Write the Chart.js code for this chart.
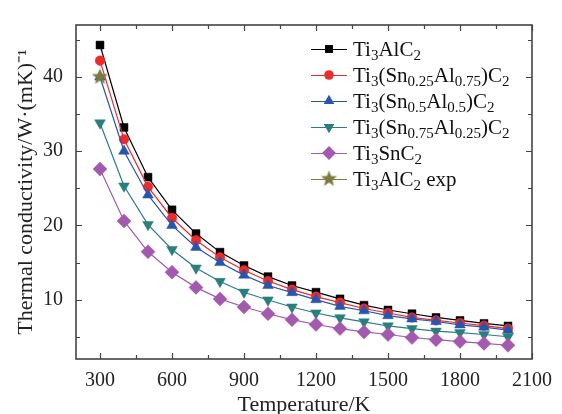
<!DOCTYPE html>
<html>
<head>
<meta charset="utf-8">
<script src="https://cdn.jsdelivr.net/npm/chart.js@4"></script>
<style>
body{margin:0;background:#fff;overflow:hidden;}
#wrap{width:562px;height:422px;}
</style>
</head>
<body>
<div id="wrap"><canvas id="myChart"></canvas></div>
<script>
// temperatures (K)
var temps = [300,400,500,600,700,800,900,1000,1100,1200,1300,1400,1500,1600,1700,1800,1900,2000];

// thermal conductivity, W/(mK)
var ti3alc2   = [44.3,33.2,26.5,22.1,18.9,16.4,14.6,13.1,11.9,11.0,10.1,9.25,8.6,8.1,7.6,7.2,6.8,6.45];
var sn025     = [42.2,31.6,25.2,21.0,18.0,15.7,13.95,12.5,11.35,10.4,9.6,8.8,8.2,7.6,7.2,6.85,6.5,6.1];
var sn05      = [40.0,30.0,24.1,20.0,17.05,15.0,13.3,11.9,10.95,10.0,9.1,8.5,7.85,7.4,7.05,6.6,6.3,5.9];
var sn075     = [33.8,25.3,20.1,16.75,14.25,12.45,11.0,9.95,9.0,8.2,7.55,7.0,6.45,6.1,5.75,5.55,5.3,5.0];
var ti3snc2   = [27.6,20.6,16.45,13.7,11.65,10.1,9.0,8.1,7.3,6.65,6.1,5.65,5.3,4.9,4.6,4.35,4.1,3.85];
var expTemps  = [300];
var expValues = [40.0];

var seriesNames = ['Ti_{3}AlC_{2}','Ti_{3}(Sn_{0.25}Al_{0.75})C_{2}','Ti_{3}(Sn_{0.5}Al_{0.5})C_{2}',
                   'Ti_{3}(Sn_{0.75}Al_{0.25})C_{2}','Ti_{3}SnC_{2}','Ti_{3}AlC_{2} exp'];

var xTicks = [300,600,900,1200,1500,1800,2100];
var xMinor = [450,750,1050,1350,1650,1950];
var yTicks = [10,20,30,40];
var yMinor = [5,15,25,35,45];

var FONT = '"Liberation Serif", "Times New Roman", serif';

function pts(xs, ys){
    return xs.map(function(x, i){ return {x: x, y: ys[i]}; });
}

// filled five point star used as point style
function makeStar(color, r){
    var c = document.createElement('canvas');
    var s = Math.ceil(r * 2 + 2);
    c.width = s; c.height = s;
    var g = c.getContext('2d');
    g.fillStyle = color;
    g.beginPath();
    for (var i = 0; i < 10; i++) {
        var rad = (i % 2 === 0) ? r : r * 0.42;
        var a = -Math.PI / 2 + i * Math.PI / 5;
        var px = s / 2 + rad * Math.cos(a), py = s / 2 + rad * Math.sin(a);
        if (i === 0) g.moveTo(px, py); else g.lineTo(px, py);
    }
    g.closePath();
    g.fill();
    return c;
}

var star = makeStar('#7b7b3c', 8.5);

function ds(i, data, color, style, radius, rotation, order, showLine){
    return {
        label: seriesNames[i],
        data: data,
        borderColor: color,
        backgroundColor: color,
        pointBackgroundColor: color,
        pointBorderColor: color,
        pointBorderWidth: 0.5,
        pointStyle: style,
        pointRadius: radius,
        pointRotation: rotation,
        borderWidth: 1.2,
        showLine: showLine,
        order: order
    };
}

var datasets = [
    ds(0, pts(temps, ti3alc2), '#000000', 'rect', 5.6, 0, 6, true),
    ds(1, pts(temps, sn025), '#ee2a2a', 'circle', 4.8, 0, 5, true),
    ds(2, pts(temps, sn05), '#2656ad', 'triangle', 6.2, 0, 4, true),
    ds(3, pts(temps, sn075), '#2a7f7c', 'triangle', 6.2, 180, 3, true),
    ds(4, pts(temps, ti3snc2), '#a35aae', 'rectRot', 7, 0, 2, true),
    ds(5, pts(expTemps, expValues), '#7b7b3c', star, 8.5, 0, 1, false)
];

// inward ticks on all four sides plus the frame
var frameTicks = {
    id: 'frameTicks',
    afterDraw: function(chart){
        var ctx = chart.ctx, a = chart.chartArea;
        var xs = chart.scales.x, ys = chart.scales.y;
        ctx.save();
        ctx.strokeStyle = '#444';
        ctx.lineWidth = 1.2;
        function xt(v, len){
            var px = Math.round(xs.getPixelForValue(v)) + 0.5;
            ctx.beginPath();
            ctx.moveTo(px, a.bottom); ctx.lineTo(px, a.bottom - len);
            ctx.moveTo(px, a.top); ctx.lineTo(px, a.top + len);
            ctx.stroke();
        }
        function yt(v, len){
            var py = Math.round(ys.getPixelForValue(v)) + 0.5;
            ctx.beginPath();
            ctx.moveTo(a.left, py); ctx.lineTo(a.left + len, py);
            ctx.moveTo(a.right, py); ctx.lineTo(a.right - len, py);
            ctx.stroke();
        }
        xTicks.forEach(function(v){ xt(v, 6); });
        xMinor.forEach(function(v){ xt(v, 4); });
        yTicks.forEach(function(v){ yt(v, 6); });
        yMinor.forEach(function(v){ yt(v, 4); });
        ctx.lineWidth = 1.6;
        ctx.strokeRect(a.left, a.top, a.right - a.left, a.bottom - a.top);
        ctx.restore();
    }
};

// text with _{..} subscripts
function drawRich(ctx, str, x, y, size){
    var parts = str.split(/(_\{[^}]*\})/);
    parts.forEach(function(p){
        if (!p) return;
        if (p.charAt(0) === '_') {
            var t = p.slice(2, -1);
            ctx.font = Math.round(size * 0.72) + 'px ' + FONT;
            ctx.fillText(t, x, y + size * 0.22);
            x += ctx.measureText(t).width;
        } else {
            ctx.font = size + 'px ' + FONT;
            ctx.fillText(p, x, y);
            x += ctx.measureText(p).width;
        }
    });
}

var sideLegend = {
    id: 'sideLegend',
    afterDraw: function(chart){
        var ctx = chart.ctx;
        var x0 = 311, x1 = 347, xm = 329, tx = 353, y = 49, step = 26;
        ctx.save();
        chart.data.datasets.forEach(function(d){
            ctx.strokeStyle = d.borderColor;
            ctx.lineWidth = 1.2;
            ctx.beginPath();
            ctx.moveTo(x0, y + 0.5); ctx.lineTo(x1, y + 0.5);
            ctx.stroke();
            ctx.fillStyle = d.backgroundColor;
            Chart.helpers.drawPoint(ctx, {
                pointStyle: d.pointStyle,
                radius: d.pointRadius,
                rotation: d.pointRotation,
                borderWidth: 0
            }, xm, y);
            ctx.fillStyle = '#111';
            ctx.textBaseline = 'alphabetic';
            drawRich(ctx, d.label, tx, y + 6.5, 21);
            y += step;
        });
        ctx.restore();
    }
};

var ctx = document.getElementById('myChart').getContext('2d');
var chart = new Chart(ctx, {
    type: 'line',
    data: { datasets: datasets },
    options: {
        responsive: true,
        maintainAspectRatio: false,
        animation: false,
        layout: { padding: { top: 15, right: 25, left: 0, bottom: 0 } },
        plugins: { legend: { display: false }, tooltip: { enabled: false } },
        scales: {
            x: {
                type: 'linear',
                min: 200, max: 2100,
                grid: { display: false, drawTicks: false },
                border: { display: false },
                afterBuildTicks: function(s){ s.ticks = xTicks.map(function(v){ return {value: v}; }); },
                afterFit: function(s){ s.height = 63; },
                ticks: { padding: 10, color: '#222', font: { family: FONT, size: 20 }, maxRotation: 0,
                         callback: function(v){ return String(v); } },
                title: { display: true, text: 'Temperature/K', color: '#222', padding: { bottom: 4, top: 0 },
                         font: { family: FONT, size: 22 } }
            },
            y: {
                type: 'linear',
                min: 2, max: 47,
                grid: { display: false, drawTicks: false },
                border: { display: false },
                afterBuildTicks: function(s){ s.ticks = yTicks.map(function(v){ return {value: v}; }); },
                afterFit: function(s){ s.width = 76; },
                ticks: { padding: 13, color: '#222', font: { family: FONT, size: 20 },
                         callback: function(v){ return String(v); } },
                title: { display: true, text: 'Thermal conductivity/W\u00b7(mK)\u207b\u00b9', color: '#222',
                         padding: { top: 13, bottom: 0 }, font: { family: FONT, size: 22 } }
            }
        }
    },
    plugins: [frameTicks, sideLegend]
});
</script>
</body>
</html>
